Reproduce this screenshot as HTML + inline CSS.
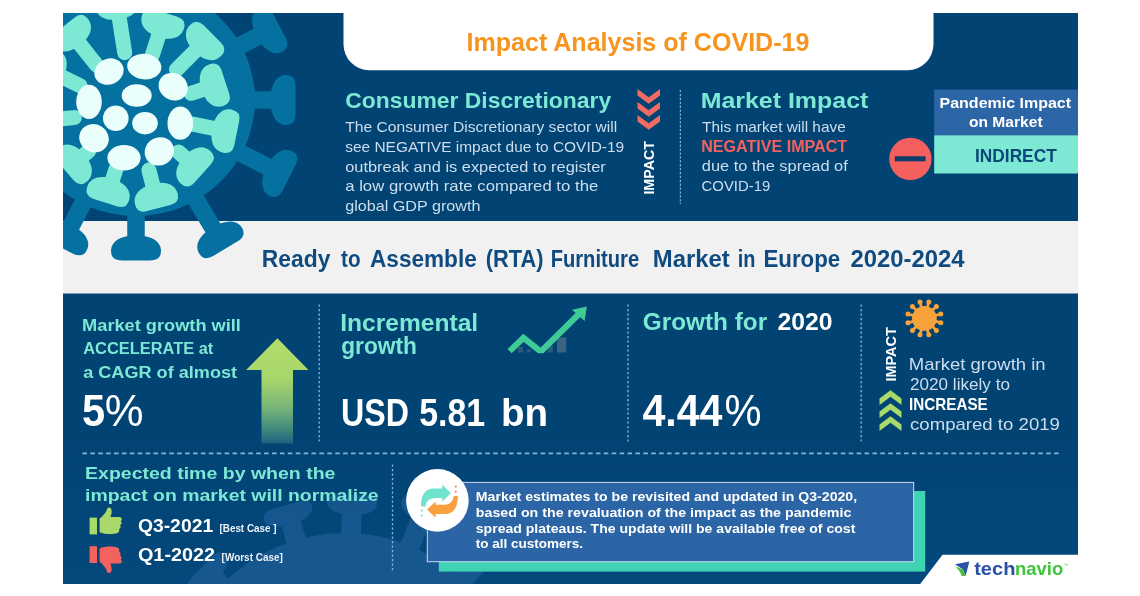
<!DOCTYPE html>
<html lang="en"><head><meta charset="utf-8"><title>Impact Analysis of COVID-19</title>
<style>html,body{margin:0;padding:0;background:#ffffff;}body{width:1140px;height:596px;overflow:hidden;font-family:"Liberation Sans",Arial,sans-serif;}svg{display:block;}</style>
</head><body>
<svg width="1140" height="596" viewBox="0 0 1140 596">
<defs>
<clipPath id="clipall"><rect x="63" y="13" width="1015" height="571"/></clipPath>
<clipPath id="clipchart"><rect x="500" y="300" width="100" height="53.2"/></clipPath>
<clipPath id="clipbot"><rect x="63" y="455" width="1015" height="129"/></clipPath>
<linearGradient id="botg" x1="0" y1="0" x2="0" y2="1"><stop offset="0" stop-color="#014474"/><stop offset="1" stop-color="#04487c"/></linearGradient>
<linearGradient id="arrg" x1="0" y1="338" x2="0" y2="443.5" gradientUnits="userSpaceOnUse"><stop offset="0" stop-color="#b3dd69"/><stop offset="0.38" stop-color="#a8d66c"/><stop offset="0.66" stop-color="#78b576"/><stop offset="0.86" stop-color="#41897d"/><stop offset="1" stop-color="#1f6180"/></linearGradient>
</defs>
<rect x="63" y="13" width="1015" height="571" fill="#014474"/>
<rect x="63" y="440" width="1015" height="144" fill="url(#botg)"/>
<g clip-path="url(#clipbot)" opacity="0.8"><circle cx="345" cy="706" r="173" fill="#1b5b95"/><line x1="223.0" y1="587.6" x2="209.0" y2="574.0" stroke="#1b5b95" stroke-width="20"/><path d="M2.5 -25.0 Q10.0 -25.0 10.0 -13.8 L10.0 13.8 Q10.0 25.0 2.5 25.0 C-5.5 25.0 -10.0 15.0 -10.0 0 C-10.0 -15.0 -5.5 -25.0 2.5 -25.0 Z" fill="#1b5b95" transform="translate(209.0 574.0) rotate(-135.9)"/><line x1="296.9" y1="543.0" x2="288.6" y2="515.0" stroke="#1b5b95" stroke-width="20"/><path d="M2.5 -25.0 Q10.0 -25.0 10.0 -13.8 L10.0 13.8 Q10.0 25.0 2.5 25.0 C-5.5 25.0 -10.0 15.0 -10.0 0 C-10.0 -15.0 -5.5 -25.0 2.5 -25.0 Z" fill="#1b5b95" transform="translate(288.6 515.0) rotate(-106.5)"/><line x1="350.9" y1="536.1" x2="352.0" y2="505.0" stroke="#1b5b95" stroke-width="20"/><path d="M2.5 -25.0 Q10.0 -25.0 10.0 -13.8 L10.0 13.8 Q10.0 25.0 2.5 25.0 C-5.5 25.0 -10.0 15.0 -10.0 0 C-10.0 -15.0 -5.5 -25.0 2.5 -25.0 Z" fill="#1b5b95" transform="translate(352.0 505.0) rotate(-88.0)"/><line x1="409.1" y1="548.6" x2="424.0" y2="512.0" stroke="#1b5b95" stroke-width="20"/><path d="M2.5 -25.0 Q10.0 -25.0 10.0 -13.8 L10.0 13.8 Q10.0 25.0 2.5 25.0 C-5.5 25.0 -10.0 15.0 -10.0 0 C-10.0 -15.0 -5.5 -25.0 2.5 -25.0 Z" fill="#1b5b95" transform="translate(424.0 512.0) rotate(-67.8)"/><line x1="460.8" y1="581.5" x2="492.0" y2="548.0" stroke="#1b5b95" stroke-width="20"/><path d="M2.5 -25.0 Q10.0 -25.0 10.0 -13.8 L10.0 13.8 Q10.0 25.0 2.5 25.0 C-5.5 25.0 -10.0 15.0 -10.0 0 C-10.0 -15.0 -5.5 -25.0 2.5 -25.0 Z" fill="#1b5b95" transform="translate(492.0 548.0) rotate(-47.1)"/></g>
<rect x="63" y="221" width="1015" height="72.5" fill="#f1f1f1"/>
<g clip-path="url(#clipall)"><ellipse cx="136" cy="100" rx="119" ry="116" fill="#0571a1"/><line x1="237.0" y1="47.2" x2="268.0" y2="31.0" stroke="#0571a1" stroke-width="17.5"/><path d="M3.1 -25.0 Q12.5 -25.0 12.5 -13.8 L12.5 13.8 Q12.5 25.0 3.1 25.0 C-6.9 25.0 -12.5 15.0 -12.5 0 C-12.5 -15.0 -6.9 -25.0 3.1 -25.0 Z" fill="#0571a1" transform="translate(268.0 31.0) rotate(-27.6)"/><line x1="250.0" y1="100.0" x2="283.0" y2="100.0" stroke="#0571a1" stroke-width="17.5"/><path d="M3.1 -25.0 Q12.5 -25.0 12.5 -13.8 L12.5 13.8 Q12.5 25.0 3.1 25.0 C-6.9 25.0 -12.5 15.0 -12.5 0 C-12.5 -15.0 -6.9 -25.0 3.1 -25.0 Z" fill="#0571a1" transform="translate(283.0 100.0) rotate(0.0)"/><line x1="237.7" y1="151.6" x2="278.0" y2="172.0" stroke="#0571a1" stroke-width="17.5"/><path d="M3.1 -25.0 Q12.5 -25.0 12.5 -13.8 L12.5 13.8 Q12.5 25.0 3.1 25.0 C-6.9 25.0 -12.5 15.0 -12.5 0 C-12.5 -15.0 -6.9 -25.0 3.1 -25.0 Z" fill="#0571a1" transform="translate(278.0 172.0) rotate(26.9)"/><line x1="194.8" y1="197.7" x2="219.0" y2="238.0" stroke="#0571a1" stroke-width="17.5"/><path d="M3.1 -25.0 Q12.5 -25.0 12.5 -13.8 L12.5 13.8 Q12.5 25.0 3.1 25.0 C-6.9 25.0 -12.5 15.0 -12.5 0 C-12.5 -15.0 -6.9 -25.0 3.1 -25.0 Z" fill="#0571a1" transform="translate(219.0 238.0) rotate(59.0)"/><line x1="136.0" y1="214.0" x2="136.0" y2="248.0" stroke="#0571a1" stroke-width="17.5"/><path d="M3.1 -25.0 Q12.5 -25.0 12.5 -13.8 L12.5 13.8 Q12.5 25.0 3.1 25.0 C-6.9 25.0 -12.5 15.0 -12.5 0 C-12.5 -15.0 -6.9 -25.0 3.1 -25.0 Z" fill="#0571a1" transform="translate(136.0 248.0) rotate(90.0)"/><line x1="83.8" y1="201.4" x2="66.0" y2="236.0" stroke="#0571a1" stroke-width="17.5"/><path d="M3.1 -25.0 Q12.5 -25.0 12.5 -13.8 L12.5 13.8 Q12.5 25.0 3.1 25.0 C-6.9 25.0 -12.5 15.0 -12.5 0 C-12.5 -15.0 -6.9 -25.0 3.1 -25.0 Z" fill="#0571a1" transform="translate(66.0 236.0) rotate(117.2)"/><line x1="96.6" y1="65.1" x2="72.6" y2="35.0" stroke="#7de8d4" stroke-width="15" stroke-linecap="round"/><path d="M3.1 -22.0 Q12.5 -22.0 12.5 -12.1 L12.5 12.1 Q12.5 22.0 3.1 22.0 C-6.9 22.0 -12.5 13.2 -12.5 0 C-12.5 -13.2 -6.9 -22.0 3.1 -22.0 Z" fill="#7de8d4" transform="translate(72.6 35.0) rotate(-128.6)"/><line x1="124.7" y1="52.7" x2="117.5" y2="7.0" stroke="#7de8d4" stroke-width="15" stroke-linecap="round"/><path d="M3.1 -22.0 Q12.5 -22.0 12.5 -12.1 L12.5 12.1 Q12.5 22.0 3.1 22.0 C-6.9 22.0 -12.5 13.2 -12.5 0 C-12.5 -13.2 -6.9 -22.0 3.1 -22.0 Z" fill="#7de8d4" transform="translate(117.5 7.0) rotate(-98.9)"/><line x1="152.4" y1="54.9" x2="162.0" y2="25.0" stroke="#7de8d4" stroke-width="15" stroke-linecap="round"/><path d="M3.1 -22.0 Q12.5 -22.0 12.5 -12.1 L12.5 12.1 Q12.5 22.0 3.1 22.0 C-6.9 22.0 -12.5 13.2 -12.5 0 C-12.5 -13.2 -6.9 -22.0 3.1 -22.0 Z" fill="#7de8d4" transform="translate(162.0 25.0) rotate(-72.2)"/><line x1="176.5" y1="69.6" x2="203.4" y2="42.7" stroke="#7de8d4" stroke-width="15" stroke-linecap="round"/><path d="M3.1 -22.0 Q12.5 -22.0 12.5 -12.1 L12.5 12.1 Q12.5 22.0 3.1 22.0 C-6.9 22.0 -12.5 13.2 -12.5 0 C-12.5 -13.2 -6.9 -22.0 3.1 -22.0 Z" fill="#7de8d4" transform="translate(203.4 42.7) rotate(-45.0)"/><line x1="191.0" y1="93.3" x2="213.5" y2="86.0" stroke="#7de8d4" stroke-width="15" stroke-linecap="round"/><path d="M3.1 -22.0 Q12.5 -22.0 12.5 -12.1 L12.5 12.1 Q12.5 22.0 3.1 22.0 C-6.9 22.0 -12.5 13.2 -12.5 0 C-12.5 -13.2 -6.9 -22.0 3.1 -22.0 Z" fill="#7de8d4" transform="translate(213.5 86.0) rotate(-18.1)"/><line x1="192.8" y1="124.1" x2="224.5" y2="130.6" stroke="#7de8d4" stroke-width="15" stroke-linecap="round"/><path d="M3.1 -22.0 Q12.5 -22.0 12.5 -12.1 L12.5 12.1 Q12.5 22.0 3.1 22.0 C-6.9 22.0 -12.5 13.2 -12.5 0 C-12.5 -13.2 -6.9 -22.0 3.1 -22.0 Z" fill="#7de8d4" transform="translate(224.5 130.6) rotate(11.6)"/><line x1="178.7" y1="152.1" x2="193.3" y2="165.2" stroke="#7de8d4" stroke-width="15" stroke-linecap="round"/><path d="M3.1 -22.0 Q12.5 -22.0 12.5 -12.1 L12.5 12.1 Q12.5 22.0 3.1 22.0 C-6.9 22.0 -12.5 13.2 -12.5 0 C-12.5 -13.2 -6.9 -22.0 3.1 -22.0 Z" fill="#7de8d4" transform="translate(193.3 165.2) rotate(41.9)"/><line x1="148.9" y1="170.1" x2="155.6" y2="196.0" stroke="#7de8d4" stroke-width="15" stroke-linecap="round"/><path d="M3.1 -22.0 Q12.5 -22.0 12.5 -12.1 L12.5 12.1 Q12.5 22.0 3.1 22.0 C-6.9 22.0 -12.5 13.2 -12.5 0 C-12.5 -13.2 -6.9 -22.0 3.1 -22.0 Z" fill="#7de8d4" transform="translate(155.6 196.0) rotate(75.6)"/><line x1="115.9" y1="169.2" x2="109.0" y2="190.8" stroke="#7de8d4" stroke-width="15" stroke-linecap="round"/><path d="M3.1 -22.0 Q12.5 -22.0 12.5 -12.1 L12.5 12.1 Q12.5 22.0 3.1 22.0 C-6.9 22.0 -12.5 13.2 -12.5 0 C-12.5 -13.2 -6.9 -22.0 3.1 -22.0 Z" fill="#7de8d4" transform="translate(109.0 190.8) rotate(107.6)"/><line x1="88.5" y1="151.1" x2="75.0" y2="162.7" stroke="#7de8d4" stroke-width="15" stroke-linecap="round"/><path d="M3.1 -22.0 Q12.5 -22.0 12.5 -12.1 L12.5 12.1 Q12.5 22.0 3.1 22.0 C-6.9 22.0 -12.5 13.2 -12.5 0 C-12.5 -13.2 -6.9 -22.0 3.1 -22.0 Z" fill="#7de8d4" transform="translate(75.0 162.7) rotate(139.3)"/><line x1="74.3" y1="117.6" x2="48.0" y2="120.0" stroke="#7de8d4" stroke-width="15" stroke-linecap="round"/><path d="M3.1 -22.0 Q12.5 -22.0 12.5 -12.1 L12.5 12.1 Q12.5 22.0 3.1 22.0 C-6.9 22.0 -12.5 13.2 -12.5 0 C-12.5 -13.2 -6.9 -22.0 3.1 -22.0 Z" fill="#7de8d4" transform="translate(48.0 120.0) rotate(174.7)"/><line x1="80.1" y1="85.7" x2="52.0" y2="72.0" stroke="#7de8d4" stroke-width="15" stroke-linecap="round"/><path d="M3.1 -22.0 Q12.5 -22.0 12.5 -12.1 L12.5 12.1 Q12.5 22.0 3.1 22.0 C-6.9 22.0 -12.5 13.2 -12.5 0 C-12.5 -13.2 -6.9 -22.0 3.1 -22.0 Z" fill="#7de8d4" transform="translate(52.0 72.0) rotate(-154.0)"/><ellipse cx="109" cy="71.6" rx="15.0" ry="12.8" fill="#eafffb" transform="rotate(-25 109 71.6)"/><ellipse cx="144.3" cy="66.6" rx="17.1" ry="12.8" fill="#eafffb" transform="rotate(5 144.3 66.6)"/><ellipse cx="173.2" cy="86.7" rx="15.0" ry="13.4" fill="#eafffb" transform="rotate(30 173.2 86.7)"/><ellipse cx="180.3" cy="123.2" rx="12.8" ry="16.6" fill="#eafffb" transform="rotate(0 180.3 123.2)"/><ellipse cx="159.4" cy="151.4" rx="15.0" ry="13.9" fill="#eafffb" transform="rotate(-30 159.4 151.4)"/><ellipse cx="124" cy="157.7" rx="16.6" ry="12.8" fill="#eafffb" transform="rotate(0 124 157.7)"/><ellipse cx="94" cy="138.3" rx="15.0" ry="13.9" fill="#eafffb" transform="rotate(30 94 138.3)"/><ellipse cx="89" cy="101.8" rx="12.8" ry="17.1" fill="#eafffb" transform="rotate(0 89 101.8)"/><ellipse cx="136.7" cy="95.5" rx="15.0" ry="11.2" fill="#eafffb" transform="rotate(0 136.7 95.5)"/><ellipse cx="115.8" cy="118.2" rx="12.8" ry="12.8" fill="#eafffb" transform="rotate(0 115.8 118.2)"/><ellipse cx="145" cy="123.2" rx="12.8" ry="11.2" fill="#eafffb" transform="rotate(0 145 123.2)"/></g>
<path d="M343.5 13 H933.5 V44 A26 26 0 0 1 907.5 70.3 H369.5 A26 26 0 0 1 343.5 44 Z" fill="#ffffff"/>
<path d="M637.5 89.0 L648.7 97.2 L660.0 89.0 L660.0 95.5 L648.7 103.7 L637.5 95.5 Z" fill="#f26b63"/>
<path d="M637.5 102.0 L648.7 110.2 L660.0 102.0 L660.0 108.5 L648.7 116.7 L637.5 108.5 Z" fill="#f26b63"/>
<path d="M637.5 115.0 L648.7 123.2 L660.0 115.0 L660.0 121.5 L648.7 129.7 L637.5 121.5 Z" fill="#f26b63"/>
<path d="M879.5 404.9 L890.5 396.7 L901.5 404.9 L901.5 398.4 L890.5 390.2 L879.5 398.4 Z" fill="#a9d86b"/>
<path d="M879.5 417.9 L890.5 409.7 L901.5 417.9 L901.5 411.4 L890.5 403.2 L879.5 411.4 Z" fill="#a9d86b"/>
<path d="M879.5 430.9 L890.5 422.7 L901.5 430.9 L901.5 424.4 L890.5 416.2 L879.5 424.4 Z" fill="#a9d86b"/>
<line x1="680.35" y1="90" x2="680.35" y2="204" stroke="#86bdec" stroke-width="1.1" stroke-dasharray="2.3 1.6"/>
<line x1="319.2" y1="304.5" x2="319.2" y2="441.5" stroke="#7fb3e0" stroke-width="1.35" stroke-dasharray="2.2 2.3"/>
<line x1="628" y1="304.5" x2="628" y2="441.5" stroke="#7fb3e0" stroke-width="1.35" stroke-dasharray="2.2 2.3"/>
<line x1="861.2" y1="304.5" x2="861.2" y2="441.5" stroke="#7fb3e0" stroke-width="1.35" stroke-dasharray="2.2 2.3"/>
<line x1="392.5" y1="464.5" x2="392.5" y2="571" stroke="#7fb3e0" stroke-width="1.35" stroke-dasharray="2.2 2.3"/>
<line x1="82.4" y1="453.4" x2="1058.5" y2="453.4" stroke="#86b4dc" stroke-width="1.8" stroke-dasharray="4.6 3.3"/>
<circle cx="910.4" cy="158.9" r="21.2" fill="#f55f5e"/>
<rect x="894.8" y="156.3" width="30.8" height="5" fill="#0a3d6b"/>
<rect x="934.2" y="89.6" width="143.79999999999995" height="45.8" fill="#2d66a6"/>
<rect x="934.2" y="135.3" width="143.79999999999995" height="38.2" fill="#7de8d4"/>
<path d="M277.4 338.3 L308.5 370 H293 V443.5 H261.5 V370 H246 Z" fill="url(#arrg)"/>
<g fill="#456a84"><rect x="557" y="337.5" width="9.3" height="15" opacity="0.85"/><rect x="548" y="346" width="5" height="6.5" opacity="0.6"/><rect x="518" y="347" width="5" height="5.5" opacity="0.6"/><rect x="527" y="349" width="4" height="3.5" opacity="0.5"/></g>
<polyline points="509.6,351.2 523.5,337.8 540.8,351.6 580,313" fill="none" stroke="#3ecb98" stroke-width="6" stroke-linejoin="miter" clip-path="url(#clipchart)"/>
<polygon points="586.8,306.5 572,309.8 584.6,321" fill="#3ecb98"/>
<circle cx="924.4" cy="318.4" r="12.4" fill="#f8a23c"/><line x1="935.0" y1="321.2" x2="940.8" y2="322.8" stroke="#f8a23c" stroke-width="2.8"/><circle cx="940.8" cy="322.8" r="2.5" fill="#f8a23c"/><line x1="932.2" y1="326.2" x2="936.4" y2="330.4" stroke="#f8a23c" stroke-width="2.8"/><circle cx="936.4" cy="330.4" r="2.5" fill="#f8a23c"/><line x1="927.2" y1="329.0" x2="928.8" y2="334.8" stroke="#f8a23c" stroke-width="2.8"/><circle cx="928.8" cy="334.8" r="2.5" fill="#f8a23c"/><line x1="921.6" y1="329.0" x2="920.0" y2="334.8" stroke="#f8a23c" stroke-width="2.8"/><circle cx="920.0" cy="334.8" r="2.5" fill="#f8a23c"/><line x1="916.6" y1="326.2" x2="912.4" y2="330.4" stroke="#f8a23c" stroke-width="2.8"/><circle cx="912.4" cy="330.4" r="2.5" fill="#f8a23c"/><line x1="913.8" y1="321.2" x2="908.0" y2="322.8" stroke="#f8a23c" stroke-width="2.8"/><circle cx="908.0" cy="322.8" r="2.5" fill="#f8a23c"/><line x1="913.8" y1="315.6" x2="908.0" y2="314.0" stroke="#f8a23c" stroke-width="2.8"/><circle cx="908.0" cy="314.0" r="2.5" fill="#f8a23c"/><line x1="916.6" y1="310.6" x2="912.4" y2="306.4" stroke="#f8a23c" stroke-width="2.8"/><circle cx="912.4" cy="306.4" r="2.5" fill="#f8a23c"/><line x1="921.6" y1="307.8" x2="920.0" y2="302.0" stroke="#f8a23c" stroke-width="2.8"/><circle cx="920.0" cy="302.0" r="2.5" fill="#f8a23c"/><line x1="927.2" y1="307.8" x2="928.8" y2="302.0" stroke="#f8a23c" stroke-width="2.8"/><circle cx="928.8" cy="302.0" r="2.5" fill="#f8a23c"/><line x1="932.2" y1="310.6" x2="936.4" y2="306.4" stroke="#f8a23c" stroke-width="2.8"/><circle cx="936.4" cy="306.4" r="2.5" fill="#f8a23c"/><line x1="935.0" y1="315.6" x2="940.8" y2="314.0" stroke="#f8a23c" stroke-width="2.8"/><circle cx="940.8" cy="314.0" r="2.5" fill="#f8a23c"/>
<g transform="translate(89.6 507.6)" fill="#a9d86b"><rect x="0" y="10" width="7.4" height="16.8"/><path d="M10 11 C13 9 16.5 5 17.5 1.5 C18 -0.8 21.5 -0.5 22 2.5 C22.4 5 21.5 7.5 20.8 9.5 L30 9.5 C32.5 9.5 33 12.5 31 13.5 C32.6 14.6 32.2 17 30.4 17.6 C31.6 18.8 31 21 29.4 21.5 C30.2 23 29.4 25.2 27.4 25.6 C24 26.6 16 27.2 10 24.6 Z"/></g>
<g transform="translate(0 1119.4) scale(1 -1)"><g transform="translate(89.6 546.4)" fill="#f4625f"><rect x="0" y="10" width="7.4" height="16.8"/><path d="M10 11 C13 9 16.5 5 17.5 1.5 C18 -0.8 21.5 -0.5 22 2.5 C22.4 5 21.5 7.5 20.8 9.5 L30 9.5 C32.5 9.5 33 12.5 31 13.5 C32.6 14.6 32.2 17 30.4 17.6 C31.6 18.8 31 21 29.4 21.5 C30.2 23 29.4 25.2 27.4 25.6 C24 26.6 16 27.2 10 24.6 Z"/></g></g>
<rect x="438.8" y="491" width="486.4" height="80.6" fill="#3fd3b4"/>
<rect x="427.3" y="482.4" width="486.4" height="79.3" fill="#2b65a5" stroke="#c9dbf2" stroke-width="1"/>
<circle cx="437.4" cy="500.4" r="31.3" fill="#ffffff"/>
<path d="M421 506.4 C420.6 496 425 488.6 433 488.4 L442.3 488.4 L442.3 484.6 L450.8 493.2 L442.3 501.4 L442.3 498 L435 498 C429.5 498.2 426 501 425.6 506.4 Z" fill="#6fe3cc"/>
<path d="M457.8 496 C458.2 506 454 513.6 446 514 L435.6 514 L435.6 517.8 L427 509.6 L435.6 501.6 L435.6 504.8 L444 504.8 C449.5 504.6 453 502 453.6 496 Z" fill="#f9a13e"/>
<circle cx="455.8" cy="486.6" r="1.1" fill="#f57c6a"/><circle cx="455.8" cy="491.6" r="1.1" fill="#f57c6a"/>
<circle cx="421.7" cy="510.6" r="1.1" fill="#6fe3cc"/><circle cx="421.7" cy="515.6" r="1.1" fill="#6fe3cc"/>
<path d="M942.5 554.7 H1140 V596 H912 L920 584.2 Z" fill="#ffffff"/>
<path d="M955 564.2 L969.3 561.6 L965.6 576 L963 569.4 Z" fill="#2b50a8"/>
<path d="M955 566.2 L963 569.6 L965.4 576 L961.6 576 C960.5 572 958.5 569 955 566.2 Z" fill="#45c13f"/>
<g font-family="'Liberation Sans', Arial, sans-serif"><text x="466.50" y="50.8" font-size="25" font-weight="bold" fill="#f7941e" textLength="342.90" lengthAdjust="spacingAndGlyphs">Impact Analysis of COVID-19</text>
<text x="345.20" y="108.3" font-size="21.8" font-weight="bold" fill="#7de8d4" textLength="265.93" lengthAdjust="spacingAndGlyphs">Consumer Discretionary</text>
<text x="345.20" y="132.2" font-size="14.8" font-weight="normal" fill="#cddded" textLength="272.10" lengthAdjust="spacingAndGlyphs">The Consumer Discretionary sector will</text>
<text x="345.20" y="151.9" font-size="14.8" font-weight="normal" fill="#cddded" textLength="279.04" lengthAdjust="spacingAndGlyphs">see NEGATIVE impact due to COVID-19</text>
<text x="345.20" y="171.5" font-size="14.8" font-weight="normal" fill="#cddded" textLength="260.52" lengthAdjust="spacingAndGlyphs">outbreak and is expected to register</text>
<text x="345.20" y="191.2" font-size="14.8" font-weight="normal" fill="#cddded" textLength="253.06" lengthAdjust="spacingAndGlyphs">a low growth rate compared to the</text>
<text x="345.20" y="210.8" font-size="14.8" font-weight="normal" fill="#cddded" textLength="135.25" lengthAdjust="spacingAndGlyphs">global GDP growth</text>
<text x="700.66" y="108.3" font-size="21.8" font-weight="bold" fill="#7de8d4" textLength="167.64" lengthAdjust="spacingAndGlyphs">Market Impact</text>
<text x="702.10" y="132.1" font-size="14.8" font-weight="normal" fill="#cddded" textLength="143.64" lengthAdjust="spacingAndGlyphs">This market will have</text>
<text x="701.14" y="151.8" font-size="16.8" font-weight="bold" fill="#f4625f" textLength="146.04" lengthAdjust="spacingAndGlyphs">NEGATIVE IMPACT</text>
<text x="701.80" y="171.4" font-size="14.8" font-weight="normal" fill="#cddded" textLength="146.01" lengthAdjust="spacingAndGlyphs">due to the spread of</text>
<text x="701.60" y="191.3" font-size="14.8" font-weight="normal" fill="#cddded" textLength="68.63" lengthAdjust="spacingAndGlyphs">COVID-19</text>
<text x="939.55" y="108.3" font-size="15.3" font-weight="bold" fill="#ffffff" textLength="131.54" lengthAdjust="spacingAndGlyphs">Pandemic Impact</text>
<text x="969.00" y="126.5" font-size="15.3" font-weight="bold" fill="#ffffff" textLength="73.60" lengthAdjust="spacingAndGlyphs">on Market</text>
<text x="975.05" y="161.8" font-size="18.2" font-weight="bold" fill="#0b4877" textLength="81.66" lengthAdjust="spacingAndGlyphs">INDIRECT</text>
<text x="261.72" y="267.2" font-size="23.3" font-weight="bold" fill="#0f4b80" textLength="68.64" lengthAdjust="spacingAndGlyphs">Ready</text>
<text x="341.00" y="267.2" font-size="23.3" font-weight="bold" fill="#0f4b80" textLength="19.50" lengthAdjust="spacingAndGlyphs">to</text>
<text x="370.00" y="267.2" font-size="23.3" font-weight="bold" fill="#0f4b80" textLength="106.76" lengthAdjust="spacingAndGlyphs">Assemble</text>
<text x="485.66" y="267.2" font-size="23.3" font-weight="bold" fill="#0f4b80" textLength="57.75" lengthAdjust="spacingAndGlyphs">(RTA)</text>
<text x="550.63" y="267.2" font-size="23.3" font-weight="bold" fill="#0f4b80" textLength="88.53" lengthAdjust="spacingAndGlyphs">Furniture</text>
<text x="652.78" y="267.2" font-size="23.3" font-weight="bold" fill="#0f4b80" textLength="76.98" lengthAdjust="spacingAndGlyphs">Market</text>
<text x="737.84" y="267.2" font-size="23.3" font-weight="bold" fill="#0f4b80" textLength="17.71" lengthAdjust="spacingAndGlyphs">in</text>
<text x="763.44" y="267.2" font-size="23.3" font-weight="bold" fill="#0f4b80" textLength="76.71" lengthAdjust="spacingAndGlyphs">Europe</text>
<text x="850.40" y="267.2" font-size="23.3" font-weight="bold" fill="#0f4b80" textLength="114.06" lengthAdjust="spacingAndGlyphs">2020-2024</text>
<text x="82.12" y="330.5" font-size="16.8" font-weight="bold" fill="#7de8d4" textLength="158.80" lengthAdjust="spacingAndGlyphs">Market growth will</text>
<text x="83.20" y="354.2" font-size="16.8" font-weight="bold" fill="#7de8d4" textLength="130.10" lengthAdjust="spacingAndGlyphs">ACCELERATE at</text>
<text x="83.20" y="377.8" font-size="16.8" font-weight="bold" fill="#7de8d4" textLength="153.86" lengthAdjust="spacingAndGlyphs">a CAGR of almost</text>
<text x="82.07" y="426" font-size="44.5" font-weight="bold" fill="#ffffff" textLength="23.13" lengthAdjust="spacingAndGlyphs">5</text>
<text x="104.72" y="426" font-size="44.5" font-weight="normal" fill="#ffffff" textLength="38.82" lengthAdjust="spacingAndGlyphs">%</text>
<text x="340.15" y="330.9" font-size="23.4" font-weight="bold" fill="#7de8d4" textLength="138.03" lengthAdjust="spacingAndGlyphs">Incremental</text>
<text x="341.20" y="353.5" font-size="23.4" font-weight="bold" fill="#7de8d4" textLength="75.75" lengthAdjust="spacingAndGlyphs">growth</text>
<text x="341.05" y="425.5" font-size="39" font-weight="bold" fill="#ffffff" textLength="67.91" lengthAdjust="spacingAndGlyphs">USD</text>
<text x="419.13" y="425.5" font-size="39" font-weight="bold" fill="#ffffff" textLength="66.07" lengthAdjust="spacingAndGlyphs">5.81</text>
<text x="501.02" y="425.5" font-size="39" font-weight="bold" fill="#ffffff" textLength="47.19" lengthAdjust="spacingAndGlyphs">bn</text>
<text x="642.80" y="329.9" font-size="23.4" font-weight="bold" fill="#7de8d4" textLength="124.31" lengthAdjust="spacingAndGlyphs">Growth for</text>
<text x="777.40" y="329.9" font-size="23.4" font-weight="bold" fill="#ffffff" textLength="55.01" lengthAdjust="spacingAndGlyphs">2020</text>
<text x="642.40" y="425.5" font-size="44" font-weight="bold" fill="#ffffff" textLength="80.10" lengthAdjust="spacingAndGlyphs">4.44</text>
<text x="724.55" y="425.5" font-size="44" font-weight="normal" fill="#ffffff" textLength="37.01" lengthAdjust="spacingAndGlyphs">%</text>
<text x="908.87" y="370" font-size="16.4" font-weight="normal" fill="#cddded" textLength="136.76" lengthAdjust="spacingAndGlyphs">Market growth in</text>
<text x="910.00" y="389.9" font-size="16.4" font-weight="normal" fill="#cddded" textLength="99.92" lengthAdjust="spacingAndGlyphs">2020 likely to</text>
<text x="909.07" y="409.9" font-size="16.4" font-weight="bold" fill="#ffffff" textLength="78.67" lengthAdjust="spacingAndGlyphs">INCREASE</text>
<text x="910.00" y="429.8" font-size="16.4" font-weight="normal" fill="#cddded" textLength="149.93" lengthAdjust="spacingAndGlyphs">compared to 2019</text>
<text x="85.07" y="479.2" font-size="17.3" font-weight="bold" fill="#7de8d4" textLength="250.39" lengthAdjust="spacingAndGlyphs">Expected time by when the</text>
<text x="85.08" y="501.3" font-size="17.3" font-weight="bold" fill="#7de8d4" textLength="293.59" lengthAdjust="spacingAndGlyphs">impact on market will normalize</text>
<text x="137.90" y="532.1" font-size="19" font-weight="bold" fill="#ffffff" textLength="75.26" lengthAdjust="spacingAndGlyphs">Q3-2021</text>
<text x="219.50" y="532.1" font-size="10.6" font-weight="bold" fill="#eef3f8" textLength="56.99" lengthAdjust="spacingAndGlyphs">[Best Case ]</text>
<text x="137.90" y="561.2" font-size="19" font-weight="bold" fill="#ffffff" textLength="77.29" lengthAdjust="spacingAndGlyphs">Q1-2022</text>
<text x="221.60" y="561.2" font-size="10.6" font-weight="bold" fill="#eef3f8" textLength="61.30" lengthAdjust="spacingAndGlyphs">[Worst Case]</text>
<text x="475.80" y="501.3" font-size="13.7" font-weight="bold" fill="#ffffff" textLength="381.33" lengthAdjust="spacingAndGlyphs">Market estimates to be revisited and updated in Q3-2020,</text>
<text x="475.80" y="517" font-size="13.7" font-weight="bold" fill="#ffffff" textLength="375.60" lengthAdjust="spacingAndGlyphs">based on the revaluation of the impact as the pandemic</text>
<text x="475.80" y="532.6" font-size="13.7" font-weight="bold" fill="#ffffff" textLength="379.55" lengthAdjust="spacingAndGlyphs">spread plateaus. The update will be available free of cost</text>
<text x="475.80" y="548.4" font-size="13.7" font-weight="bold" fill="#ffffff" textLength="107.29" lengthAdjust="spacingAndGlyphs">to all customers.</text>
<text x="974.20" y="575" font-size="18.4" font-weight="bold" fill="#2a4fa7" textLength="41.26" lengthAdjust="spacingAndGlyphs">tech</text>
<text x="1015.00" y="575" font-size="18.4" font-weight="bold" fill="#3fc43c" textLength="48.24" lengthAdjust="spacingAndGlyphs">navio</text>
<text x="1064.00" y="566.5" font-size="5" font-weight="normal" fill="#3fc43c" textLength="4.00" lengthAdjust="spacingAndGlyphs">™</text>
<text transform="translate(653.6 194.6) rotate(-90)" font-size="15" font-weight="bold" fill="#ffffff" textLength="53.5" lengthAdjust="spacingAndGlyphs">IMPACT</text>
<text transform="translate(895.8 381.6) rotate(-90)" font-size="15" font-weight="bold" fill="#ffffff" textLength="54.5" lengthAdjust="spacingAndGlyphs">IMPACT</text></g>
</svg>
</body></html>
